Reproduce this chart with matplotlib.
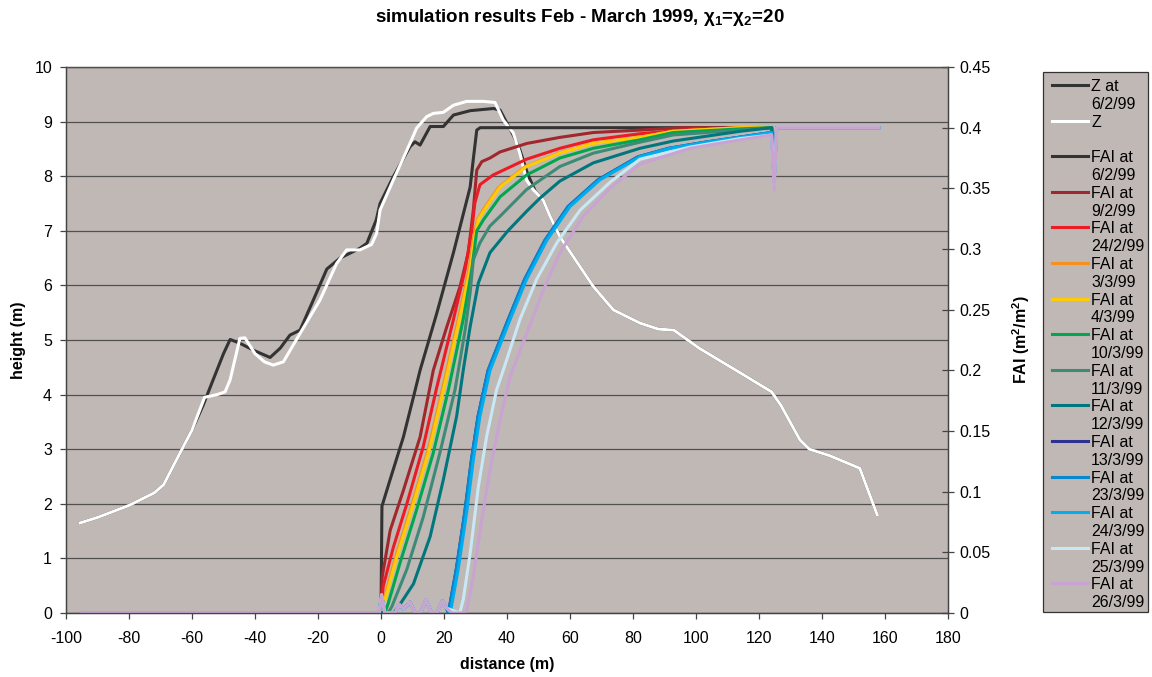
import numpy as np
import matplotlib.pyplot as plt
from matplotlib.lines import Line2D
from matplotlib.patches import Rectangle
from matplotlib.ticker import FuncFormatter

plt.rcParams['font.family'] = ['Liberation Sans', 'DejaVu Sans']
plt.rcParams['axes.unicode_minus'] = False
plt.rcParams['mathtext.fontset'] = 'custom'
plt.rcParams['mathtext.rm'] = 'Liberation Sans'
plt.rcParams['mathtext.it'] = 'Liberation Sans:italic'
plt.rcParams['mathtext.bf'] = 'Liberation Sans:bold'

# ---- dune profile (left axis, m) ----
z_x = [-95.5, -90, -80, -72, -69, -65, -60, -56, -52, -49.5,
       -47.9, -44.8, -43.2, -40, -37, -34.2, -31, -25.7, -19.4, -14.1,
       -10.9, -6.7, -3, -1.4, -0.3, 3.9, 9.2, 11.3, 14.5, 16.6,
       19.8, 23, 27.2, 32.5, 36.2, 38.8, 42, 44.1, 46.2, 48.4,
       51.5, 53.7, 56.8, 61, 67.4, 73.8, 82.2, 88, 93, 101,
       114, 124, 127, 133, 136, 142.5, 152, 157.5]
z_h = [1.65, 1.75, 1.97, 2.2, 2.35, 2.8, 3.35, 3.95, 4.0, 4.05,
       4.27, 5.03, 5.04, 4.75, 4.6, 4.54, 4.6, 5.12, 5.73, 6.4,
       6.65, 6.65, 6.75, 6.95, 7.38, 7.93, 8.6, 8.88, 9.09, 9.15,
       9.17, 9.3, 9.37, 9.37, 9.35, 9.03, 8.79, 8.42, 7.93, 7.75,
       7.56, 7.26, 6.89, 6.53, 5.98, 5.55, 5.31, 5.2, 5.18, 4.85,
       4.4, 4.05, 3.8, 3.17, 3.0, 2.88, 2.65, 1.8]

z0602_x = [-95.5, -90, -80, -72, -69, -65, -60, -56.5, -53.3, -50,
           -47.9, -44.8, -40, -35.2, -32, -28.9, -25.7, -21.5, -17.2, -13,
           -6.7, -4.5, -1.5, -0.3, 3.9, 9.2, 10.8, 12.4, 15.6, 19.8,
           23, 28.3, 35.7, 37.8, 42, 44.1, 46.5, 49, 51.5, 53.7,
           56.8, 61, 67.4, 73.8, 82.2, 88, 93, 101, 114, 124,
           127, 133, 136, 142.5, 152, 157.5]
z0602_h = [1.65, 1.75, 1.97, 2.2, 2.35, 2.8, 3.35, 3.8, 4.27, 4.75,
           5.01, 4.94, 4.8, 4.68, 4.85, 5.09, 5.18, 5.73, 6.3, 6.5,
           6.68, 6.77, 7.2, 7.5, 7.99, 8.54, 8.63, 8.57, 8.91, 8.91,
           9.12, 9.2, 9.24, 9.21, 8.75, 8.48, 8.05, 7.72, 7.56, 7.26,
           6.89, 6.53, 5.98, 5.55, 5.31, 5.2, 5.18, 4.85, 4.4, 4.05,
           3.8, 3.17, 3.0, 2.88, 2.65, 1.8]

# ---- FAI profiles (right axis, m2/m2) ----
fai_x_0602 = [-95, 0, 0.3, 2.9, 7.1, 10.3, 12.4, 17.7, 23, 28.3, 29.3, 30.4, 31.5, 124, 124.6]
fai_0602 = [0, 0, 0.088, 0.110, 0.145, 0.178, 0.200, 0.247, 0.297, 0.351, 0.374, 0.398, 0.400, 0.400, 0.385]

fai_x_0902 = [-95, 0, 0.4, 2.9, 7.1, 12.4, 16.6, 20.9, 25.1, 27.7, 29.3, 30.4, 32, 34.6, 37.8,
              46.3, 56.8, 67.4, 82.2, 95, 124, 124.6]
fai_0902 = [0, 0, 0.030, 0.068, 0.101, 0.145, 0.200, 0.236, 0.269, 0.297, 0.332, 0.365, 0.372, 0.375, 0.380,
            0.387, 0.392, 0.396, 0.398, 0.400, 0.400, 0.383]

fai_x_2402 = [-95, 0, 0.7, 3.9, 8.2, 13.4, 17.7, 23, 26.7, 28.8, 29.8, 31.4, 35.6, 46.2, 56.8,
              67.4, 82.2, 100, 124, 124.6]
fai_2402 = [0, 0, 0.022, 0.054, 0.090, 0.137, 0.186, 0.242, 0.283, 0.315, 0.338, 0.353, 0.361, 0.374, 0.383,
            0.390, 0.395, 0.399, 0.400, 0.380]

fai_x_0303 = [-95, 0.2, 1.0, 4.6, 9.9, 15.2, 19.9, 24.7, 27.9, 29.4, 30.6, 32.6, 37.4, 45.8, 56.4,
              67.0, 81.8, 92.4, 113.6, 124, 124.6]
fai_0303 = [0, 0, 0.011, 0.046, 0.090, 0.137, 0.189, 0.244, 0.283, 0.310, 0.324, 0.333, 0.351, 0.368, 0.379,
            0.387, 0.392, 0.397, 0.400, 0.400, 0.385]

fai_x_0403 = [-95, 0.5, 1.3, 5, 10.3, 15.6, 20.3, 25.1, 28.3, 29.8, 30.9, 33, 37.8, 46.2, 56.8,
              67.4, 82.2, 92.8, 114, 124, 124.6]
fai_0403 = [0, 0, 0.011, 0.046, 0.090, 0.137, 0.189, 0.244, 0.283, 0.310, 0.324, 0.333, 0.351, 0.368, 0.379,
            0.387, 0.392, 0.397, 0.400, 0.400, 0.385]

fai_x_1003 = [-95, 1.2, 2.3, 6, 11.3, 16.6, 21.4, 26.1, 28.8, 30.4, 32.5, 37.8, 46.2, 56.8, 67.4,
              82.2, 92.8, 114, 124, 124.6]
fai_1003 = [0, 0, 0.008, 0.041, 0.085, 0.132, 0.184, 0.242, 0.283, 0.315, 0.324, 0.343, 0.361, 0.375, 0.383,
            0.390, 0.396, 0.399, 0.400, 0.382]

fai_x_1103 = [-95, 2.2, 3.4, 8.2, 13.4, 18.7, 23.5, 26.7, 28.3, 29.3, 31.4, 34.6, 37.8, 46.2, 56.8,
              67.4, 82.2, 92.8, 114, 124, 124.6]
fai_1103 = [0, 0, 0.005, 0.036, 0.079, 0.132, 0.184, 0.233, 0.264, 0.291, 0.305, 0.319, 0.327, 0.349, 0.368,
            0.379, 0.388, 0.394, 0.398, 0.400, 0.380]

fai_x_1203 = [-95, 4, 5.5, 10.3, 15.6, 19.8, 24, 26.1, 28.3, 30.9, 34.6, 40.3, 46.2, 50.5, 56.8,
              67.4, 82.2, 92.8, 114, 124, 124.6]
fai_1203 = [0, 0, 0.005, 0.024, 0.063, 0.110, 0.162, 0.200, 0.236, 0.272, 0.297, 0.315, 0.331, 0.342, 0.356,
            0.371, 0.383, 0.389, 0.397, 0.400, 0.378]

# small bumps near the toe shared by the late-March runs
toe_x = [-95, -0.6, 0.2, 1.2, 4.5, 5.8, 7.2, 9.2, 10.8, 12.5, 14.3, 16.0, 17.8, 19.5, 20.8]
toe_fai = [0, 0, 0.015, 0, 0, 0.007, 0.003, 0.009, 0, 0, 0.011, 0, 0, 0.010, 0.004]

fai_x_1303 = [21.4, 23.9, 26.6, 28.7, 30.8, 34.0, 40.4, 45.6, 52.0, 59.4, 68.9, 81.6, 91.4, 102.8, 113.4,
              124, 124.8, 125.6, 158]
fai_1303 = [0, 0.036, 0.083, 0.126, 0.162, 0.200, 0.242, 0.275, 0.307, 0.335, 0.357, 0.376, 0.383, 0.388, 0.392,
            0.396, 0.355, 0.400, 0.400]

fai_x_2303 = [21.4, 23.9, 26.6, 28.7, 30.8, 34.0, 40.4, 45.6, 52.0, 59.4, 68.9, 81.6, 91.4, 102.8, 113.4,
              124, 124.8, 125.6, 158]
fai_2303 = [0, 0.036, 0.083, 0.126, 0.162, 0.200, 0.242, 0.275, 0.307, 0.335, 0.357, 0.376, 0.383, 0.388, 0.392,
            0.396, 0.355, 0.400, 0.400]

fai_x_2403 = [22.0, 24.5, 27.2, 29.3, 31.4, 34.6, 41.0, 46.2, 52.6, 60.0, 69.5, 82.2, 92.0, 103.4, 114.0,
              124, 124.8, 125.6, 158]
fai_2403 = [0, 0.036, 0.083, 0.126, 0.162, 0.200, 0.242, 0.275, 0.307, 0.335, 0.357, 0.376, 0.383, 0.388, 0.392,
            0.396, 0.355, 0.400, 0.400]

fai_x_2503 = [25.0, 26.1, 28.3, 30.9, 33.5, 36.7, 38.8, 44.1, 49.4, 55.8, 63.2, 72.7, 82.2, 98.1, 114,
              124, 124.8, 125.6, 158]
fai_2503 = [0, 0.011, 0.049, 0.104, 0.145, 0.184, 0.200, 0.242, 0.275, 0.305, 0.332, 0.355, 0.374, 0.384, 0.391,
            0.394, 0.352, 0.400, 0.400]

fai_x_2603 = [22.5, 26.5, 27.2, 29.3, 32.0, 34.6, 37.8, 41.0, 46.2, 51.5, 56.8, 64.2, 72.7, 82.2, 98.1,
              114, 124, 124.8, 125.6, 158]
fai_2603 = [0, 0, 0.002, 0.030, 0.077, 0.118, 0.159, 0.195, 0.230, 0.266, 0.297, 0.327, 0.350, 0.370, 0.383,
            0.390, 0.394, 0.349, 0.400, 0.400]

fai_runs = [
    ('FAI at\n6/2/99', fai_x_0602, fai_0602, '#333333'),
    ('FAI at\n9/2/99', fai_x_0902, fai_0902, '#a0282c'),
    ('FAI at\n24/2/99', fai_x_2402, fai_2402, '#ed1c24'),
    ('FAI at\n3/3/99', fai_x_0303, fai_0303, '#f7901e'),
    ('FAI at\n4/3/99', fai_x_0403, fai_0403, '#ffcb05'),
    ('FAI at\n10/3/99', fai_x_1003, fai_1003, '#00a650'),
    ('FAI at\n11/3/99', fai_x_1103, fai_1103, '#3d8b77'),
    ('FAI at\n12/3/99', fai_x_1203, fai_1203, '#00767d'),
    ('FAI at\n13/3/99', toe_x + fai_x_1303, toe_fai + fai_1303, '#2e3192'),
    ('FAI at\n23/3/99', toe_x + fai_x_2303, toe_fai + fai_2303, '#0a86cc'),
    ('FAI at\n24/3/99', toe_x + fai_x_2403, toe_fai + fai_2403, '#00aeef'),
    ('FAI at\n25/3/99', toe_x + fai_x_2503, toe_fai + fai_2503, '#c8e8f5'),
    ('FAI at\n26/3/99', toe_x + fai_x_2603, toe_fai + fai_2603, '#c9a3d2'),
]

W, H = 1152, 677
bg = '#c0b8b5'
axcol = '#444444'
lw = 2.2
fs = 11.5

fig = plt.figure(figsize=(W / 100, H / 100), dpi=100)
ax = fig.add_axes([66 / W, 64 / H, 882 / W, 546 / H])
ax.set_facecolor(bg)
ax2 = ax.twinx()

l_z0 = ax.plot(z0602_x, z0602_h, color='#333333', lw=lw, label='Z at\n6/2/99')[0]
l_z = ax.plot(z_x, z_h, color='white', lw=lw, label='Z')[0]

handles = [l_z0, l_z]
for label, xs, ys, col in fai_runs:
    handles.append(ax2.plot(xs, ys, color=col, lw=lw, label=label)[0])

ax.set_xlim(-100, 180)
ax.set_ylim(0, 10)
ax2.set_ylim(0, 0.45)
ax.set_xticks(range(-100, 181, 20))
ax.set_yticks(range(0, 11))
ax2.set_yticks(np.arange(0, 0.451, 0.05))
ax2.yaxis.set_major_formatter(FuncFormatter(lambda v, _: f'{v:.2f}'.rstrip('0').rstrip('.')))

ax.yaxis.grid(True, color='#505050', lw=0.9)
ax.set_axisbelow(True)

for a in (ax, ax2):
    for s in a.spines.values():
        s.set_color(axcol)
        s.set_linewidth(0.9)
    a.spines['top'].set_color('#505050')
ax.tick_params(axis='x', direction='out', length=4, pad=9, color=axcol, labelsize=fs, width=0.9)
ax.tick_params(axis='y', direction='out', length=4, pad=6, color=axcol, labelsize=fs, width=0.9)
ax2.tick_params(axis='y', direction='inout', length=9, pad=4, color=axcol, labelsize=fs, width=0.9)

ax.set_xlabel('distance (m)', fontsize=fs, fontweight='bold', labelpad=8)
ax.set_ylabel('height (m)', fontsize=fs, fontweight='bold', labelpad=6)
ax2.set_ylabel(r'FAI (m$^\mathbf{2}$/m$^\mathbf{2}$)', fontsize=fs, fontweight='bold', labelpad=14)

fig.text(0.503, 1 - 18 / H, r'simulation results Feb - March 1999, $\mathbf{\chi_1}$=$\mathbf{\chi_2}$=20',
         ha='center', va='center', fontsize=13.5, fontweight='bold')

# legend box laid out like the spreadsheet one: sample next to the first line of a two-line label
fig.add_artist(Rectangle((1043 / W, 1 - 612 / H), 105 / W, 540 / H, transform=fig.transFigure,
                         facecolor=bg, edgecolor='#333333', lw=0.9))
for i, h in enumerate(handles):
    y = 85 + i * 35.6
    fig.add_artist(Line2D([1052 / W, 1088 / W], [1 - y / H] * 2, transform=fig.transFigure,
                          color=h.get_color(), lw=lw))
    for j, part in enumerate(h.get_label().split('\n')):
        fig.text(1091 / W, 1 - (y + j * 17.8) / H, part, ha='left', va='center_baseline', fontsize=fs)

fig.savefig('out.png', dpi=100)
